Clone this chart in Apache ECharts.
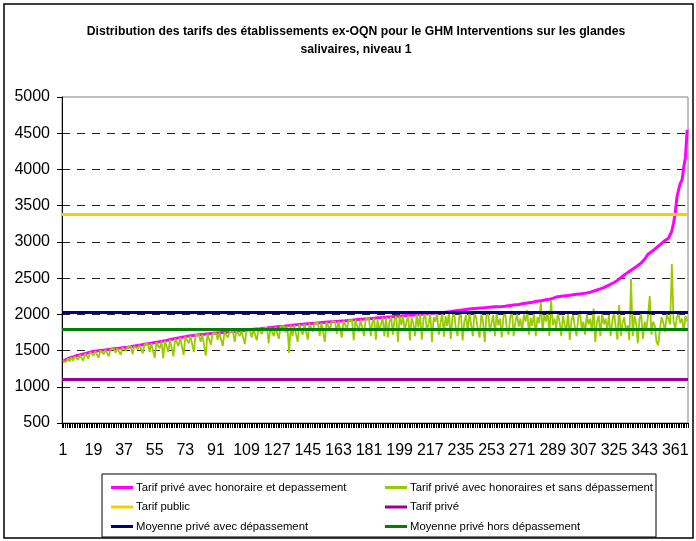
<!DOCTYPE html>
<html>
<head>
<meta charset="utf-8">
<script src="https://cdn.jsdelivr.net/npm/echarts@6.0.0/dist/echarts.min.js"></script>
<style>
  html, body { margin: 0; padding: 0; background: #fff; }
  #chart { width: 696px; height: 541px; }
</style>
</head>
<body>
<div id="chart"></div>
<script>
// tarif privé avec honoraire et dépassement (trié)
var tarifAvecDep = [
  1350,1362,1378,1390,1398,1405,1412,1420,1428,1435,
  1440,1446,1452,1458,1463,1470,1478,1482,1486,1490,
  1494,1497,1500,1503,1506,1509,1512,1515,1518,1521,
  1524,1527,1530,1532,1535,1538,1541,1544,1547,1550,
  1554,1558,1562,1566,1570,1574,1578,1582,1586,1590,
  1594,1598,1602,1606,1610,1614,1618,1622,1626,1630,
  1634,1640,1645,1650,1655,1660,1666,1670,1675,1680,
  1684,1688,1692,1696,1700,1703,1706,1709,1712,1715,
  1718,1720,1723,1725,1728,1730,1733,1735,1738,1740,
  1742,1744,1746,1748,1750,1752,1754,1756,1758,1760,
  1763,1765,1768,1770,1773,1775,1778,1780,1783,1785,
  1788,1790,1793,1795,1798,1800,1802,1805,1808,1810,
  1812,1815,1817,1820,1822,1825,1827,1830,1832,1834,
  1836,1839,1841,1844,1846,1849,1852,1855,1858,1861,
  1863,1865,1866,1868,1870,1872,1874,1876,1878,1880,
  1882,1884,1886,1888,1890,1892,1894,1896,1898,1900,
  1902,1904,1905,1907,1909,1910,1912,1914,1916,1918,
  1920,1922,1924,1926,1928,1930,1932,1934,1936,1938,
  1940,1942,1944,1946,1948,1950,1952,1954,1956,1958,
  1960,1962,1964,1966,1968,1970,1972,1974,1975,1977,
  1979,1981,1983,1985,1987,1989,1991,1993,1995,1997,
  1999,2001,2003,2005,2007,2009,2011,2013,2015,2017,
  2019,2021,2023,2025,2027,2029,2031,2034,2038,2042,
  2046,2049,2052,2055,2058,2061,2064,2067,2070,2073,
  2076,2078,2080,2082,2084,2086,2088,2090,2092,2094,
  2096,2098,2100,2102,2103,2104,2106,2107,2108,2110,
  2113,2116,2119,2122,2125,2128,2131,2134,2137,2140,
  2145,2150,2152,2156,2160,2164,2168,2172,2176,2180,
  2184,2188,2192,2196,2200,2204,2208,2212,2220,2230,
  2238,2243,2246,2249,2252,2255,2258,2261,2264,2267,
  2270,2273,2276,2279,2282,2285,2288,2292,2296,2300,
  2306,2312,2320,2328,2336,2344,2352,2360,2370,2381,
  2392,2403,2415,2428,2440,2450,2468,2486,2505,2524,
  2543,2560,2576,2592,2608,2624,2640,2657,2674,2692,
  2710,2726,2760,2795,2830,2850,2864,2880,2900,2920,
  2940,2960,2980,3000,3020,3035,3050,3067,3150,3260,
  3400,3620,3720,3810,3855,4030,4170,4545
];

// tarif privé avec honoraires et sans dépassement
var tarifSansDep = [
  1350,1362,1345,1390,1350,1405,1360,1420,1428,1370,
  1440,1446,1360,1458,1463,1390,1478,1482,1430,1490,
  1494,1400,1500,1503,1450,1509,1512,1420,1518,1521,
  1524,1470,1530,1532,1440,1538,1541,1500,1547,1550,
  1554,1450,1562,1566,1520,1574,1578,1460,1586,1590,
  1594,1480,1598,1602,1400,1614,1618,1530,1626,1390,
  1634,1640,1480,1650,1655,1420,1666,1670,1560,1680,
  1684,1440,1692,1696,1600,1703,1706,1480,1712,1715,
  1718,1620,1723,1725,1430,1730,1733,1580,1738,1740,
  1742,1650,1746,1748,1560,1752,1754,1680,1758,1760,
  1763,1620,1768,1770,1700,1775,1778,1590,1783,1785,
  1788,1680,1793,1795,1640,1800,1802,1730,1808,1810,
  1812,1600,1817,1820,1700,1825,1827,1660,1832,1834,
  1836,1750,1841,1466,1846,1700,1852,1855,1620,1861,
  1863,1720,1866,1868,1650,1872,1874,1760,1878,1880,
  1882,1700,1886,1888,1620,1892,1894,1780,1898,1900,
  1902,1730,1905,1907,1680,1910,1912,1800,1916,1918,
  1920,1640,1924,1926,1760,1930,1932,1700,1936,1938,
  1940,1700,1890,1950,1650,1920,1780,1860,1956,1700,
  1960,1680,1900,1966,1720,1930,1972,1620,1975,1850,
  1979,1760,1900,1985,1640,1960,1880,1700,1995,1820,
  1999,1650,1940,2005,1780,1870,2011,1620,1960,1900,
  2019,1720,1880,2025,1690,1980,1840,2030,1660,1950,
  2040,1800,1700,1960,2010,1640,1900,1990,1760,2020,
  1860,1700,2030,1950,1780,1680,2000,1900,1620,1980,
  2040,1760,1880,1990,1700,2020,1850,1940,1680,1970,
  2030,1800,1720,1960,2050,1700,1890,2010,1830,1940,
  1760,2000,1900,2060,1720,1950,1840,2030,1700,1960,
  1880,2170,1760,1990,1900,2050,1700,2197,1850,1940,
  1800,2020,1900,1700,1980,1860,1760,2040,1645,1920,
  1990,1820,1700,1960,2050,1780,1900,1720,2000,1860,
  1940,1760,2080,1620,1900,1980,1700,2020,1860,1940,
  1780,1990,1700,1900,2040,1820,1650,2128,1700,1880,
  1960,1760,1850,1640,2487,1700,1980,1880,1600,1940,
  2000,1660,1900,1780,1980,2253,1720,1900,1840,1620,
  1577,1800,1960,1880,1760,2000,1940,1860,2695,1900,
  1800,1960,2000,1880,1940,1760,1980,1900
];

var tarifPublic = 3380;
var tarifPrive = 1100;
var moyenneAvecDep = 2030;
var moyenneHorsDep = 1800;

var categories = [];
for (var i = 1; i <= tarifAvecDep.length; i++) categories.push(String(i));

var seriesNames = [
  'Tarif privé avec honoraire et depassement',
  'Tarif privé avec honoraires et sans dépassement',
  'Tarif public',
  'Tarif privé',
  'Moyenne privé avec dépassement',
  'Moyenne privé hors dépassement'
];
var colors = ['#FF00FF', '#99CC00', '#FFCC00', '#990099', '#000080', '#008000'];

var font = 'Arial, "Liberation Sans", sans-serif';

function hLine(name, color, value) {
  return {
    name: name,
    type: 'line',
    data: [],
    itemStyle: { color: color },
    lineStyle: { color: color, width: 3 },
    markLine: {
      silent: true,
      symbol: 'none',
      label: { show: false },
      lineStyle: { color: color, width: 3, type: 'solid' },
      data: [{ yAxis: value }]
    }
  };
}

var legendText = { fontFamily: font, fontSize: 11.3, color: '#000', padding: [0, 0, 0, -2] };

var chart = echarts.init(document.getElementById('chart'));
chart.setOption({
  animation: false,
  backgroundColor: '#fff',
  title: {
    text: 'Distribution des tarifs des établissements ex-OQN pour le GHM Interventions sur les glandes\nsalivaires, niveau 1',
    left: 351,
    top: 18,
    textAlign: 'center',
    textStyle: { fontFamily: font, fontSize: 12.2, fontWeight: 'bold', color: '#000', lineHeight: 18 }
  },
  legend: [
    {
      orient: 'vertical',
      left: 106,
      top: 477,
      itemGap: 8.5,
      itemWidth: 22,
      itemHeight: 3,
      icon: 'rect',
      textStyle: legendText,
      data: [seriesNames[0], seriesNames[2], seriesNames[4]]
    },
    {
      orient: 'vertical',
      left: 380,
      top: 477,
      itemGap: 8.5,
      itemWidth: 22,
      itemHeight: 3,
      icon: 'rect',
      textStyle: legendText,
      data: [seriesNames[1], seriesNames[3], seriesNames[5]]
    }
  ],
  graphic: [
    { type: 'rect', shape: { x: 4, y: 4, width: 689, height: 534 }, style: { fill: 'none', stroke: '#000', lineWidth: 1.5 } },
    { type: 'rect', shape: { x: 102, y: 474, width: 554, height: 63 }, style: { fill: 'none', stroke: '#000', lineWidth: 1 } }
  ],
  grid: {
    left: 62, right: 8, top: 97, bottom: 118,
    show: true, borderColor: '#808080', borderWidth: 1
  },
  xAxis: {
    type: 'category',
    data: categories,
    boundaryGap: true,
    axisLine: { lineStyle: { color: '#000', width: 1 } },
    axisTick: { show: true, interval: 0, length: 5, lineStyle: { color: '#000' } },
    axisLabel: { interval: 17, fontFamily: font, fontSize: 16, color: '#000', margin: 20 },
    splitLine: { show: false }
  },
  yAxis: {
    type: 'value',
    min: 500, max: 5000, interval: 500,
    axisLine: { show: true, lineStyle: { color: '#000', width: 1 } },
    axisTick: { show: true, length: 5, lineStyle: { color: '#000' } },
    axisLabel: {
      fontFamily: font, fontSize: 16, color: '#000', margin: 12,
      formatter: function (v) { return String(v); }
    },
    splitLine: {
      show: true,
      lineStyle: {
        type: [8, 7],
        width: 1,
        color: ['#000', '#222', '#222', '#222', '#222', '#222', '#222', '#222', '#222', 'rgba(0,0,0,0)']
      }
    }
  },
  series: [
    {
      name: seriesNames[0], type: 'line', data: tarifAvecDep,
      showSymbol: false, symbol: 'none',
      itemStyle: { color: colors[0] },
      lineStyle: { color: colors[0], width: 3 }
    },
    {
      name: seriesNames[1], type: 'line', data: tarifSansDep,
      showSymbol: false, symbol: 'none',
      itemStyle: { color: colors[1] },
      lineStyle: { color: colors[1], width: 1.8 }
    },
    hLine(seriesNames[2], colors[2], tarifPublic),
    hLine(seriesNames[3], colors[3], tarifPrive),
    hLine(seriesNames[4], colors[4], moyenneAvecDep),
    hLine(seriesNames[5], colors[5], moyenneHorsDep)
  ]
});
</script>
</body>
</html>
